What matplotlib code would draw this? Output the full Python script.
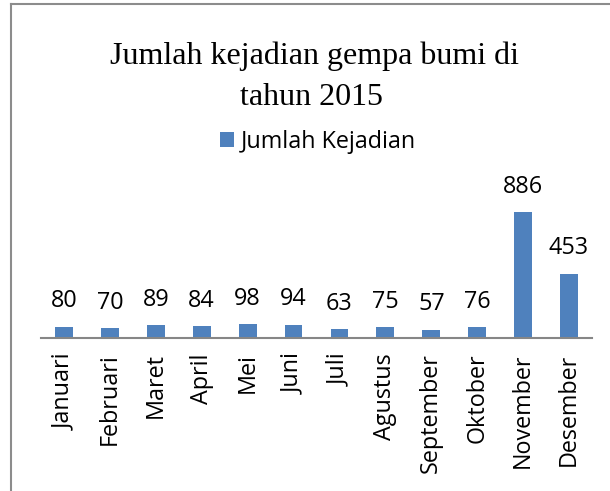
import matplotlib
matplotlib.use('Agg')
import matplotlib.pyplot as plt
from matplotlib.lines import Line2D

# data
months = ['Januari', 'Februari', 'Maret', 'April', 'Mei', 'Juni', 'Juli',
          'Agustus', 'September', 'Oktober', 'November', 'Desember']
jumlah_kejadian = [80, 70, 89, 84, 98, 94, 63, 75, 57, 76, 886, 453]
title_lines = ['Jumlah kejadian gempa bumi di', 'tahun 2015']

BAR_COLOR = '#4F81BD'
FONT = 'Open Sans'
FS = 16.8
W, H = 610, 491

fig = plt.figure(figsize=(W / 100, H / 100), dpi=100)
fig.patch.set_facecolor('white')

# plot area placed in pixel terms
ax = fig.add_axes([41 / W, (H - 338) / H, (592 - 41) / W, 142 / H])
x = list(range(len(months)))
bars = ax.bar(x, jumlah_kejadian, width=0.39, color=BAR_COLOR,
              label='Jumlah Kejadian', zorder=2)
ax.set_xlim(-0.5, len(months) - 0.5)
ax.set_ylim(0, 1000)

# data labels above bars
for xi, v in zip(x, jumlah_kejadian):
    ax.annotate(str(v), (xi, v), xytext=(0, 18.3), textcoords='offset points',
                ha='center', va='center', fontsize=FS, family=FONT,
                color='black')

# axis styling
for side in ['left', 'right', 'top']:
    ax.spines[side].set_visible(False)
ax.spines['bottom'].set_color('#868686')
ax.spines['bottom'].set_linewidth(1.5)
ax.set_yticks([])
ax.set_xticks(x)
ax.set_xticklabels(months, rotation=90, fontsize=FS, family=FONT)
ax.tick_params(axis='x', length=0, pad=11)

# title, two lines
fig.text(315 / W, 1 - 64 / H, title_lines[0], ha='center', va='baseline',
         fontsize=23, family='Liberation Serif')
fig.text(311 / W, 1 - 105 / H, title_lines[1], ha='center', va='baseline',
         fontsize=23, family='Liberation Serif')

# legend
fig.legend(handles=[bars], labels=['Jumlah Kejadian'], loc='center',
           bbox_to_anchor=(318 / W, 1 - 142 / H), frameon=False,
           prop={'family': FONT, 'size': FS},
           handlelength=0.62, handleheight=0.62, handletextpad=0.3)

# chart border (left and top visible)
fig.add_artist(Line2D([11 / W, 11 / W], [1 - 4 / H, 0], color='#8c8c8c',
                      linewidth=1.5, transform=fig.transFigure))
fig.add_artist(Line2D([11 / W, 1], [1 - 4 / H, 1 - 4 / H], color='#8c8c8c',
                      linewidth=1.5, transform=fig.transFigure))

fig.savefig('out.png', dpi=100)
